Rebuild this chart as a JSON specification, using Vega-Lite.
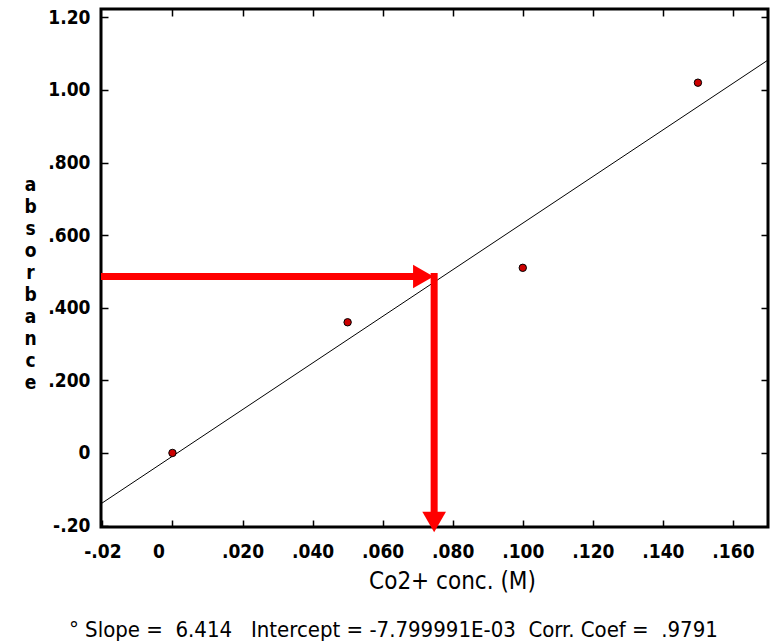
{
  "$schema": "https://vega.github.io/schema/vega-lite/v6.json",
  "autosize": {"type": "none"},
  "width": 667,
  "height": 518,
  "padding": {"left": 101, "top": 9, "right": 5, "bottom": 117},
  "background": "white",
  "config": {
    "view": {"stroke": "black", "strokeWidth": 3},
    "font": "DejaVu Sans Condensed, Liberation Sans, sans-serif",
    "axis": {"grid": false, "domain": false, "tickColor": "black", "tickWidth": 1.5, "tickSize": -7,
      "labelFont": "DejaVu Sans Condensed, Liberation Sans, sans-serif", "labelFontWeight": "bold", "labelFontSize": 19, "labelColor": "black",
      "titleFont": "DejaVu Sans Condensed, Liberation Sans, sans-serif", "titleFontWeight": "normal", "titleColor": "black"}
  },
  "title": {
    "text": "\u00b0 Slope =\u00a0\u00a06.414\u00a0\u00a0\u00a0Intercept = -7.799991E-03\u00a0\u00a0Corr. Coef =\u00a0\u00a0.9791",
    "orient": "bottom", "anchor": "start", "dx": 45, "offset": 27,
    "font": "DejaVu Sans Condensed, Liberation Sans, sans-serif", "fontSize": 22, "fontWeight": "normal", "color": "black"
  },
  "datasets": {
    "pts": [
      {"conc": 0.0, "abs": 0.0},
      {"conc": 0.05, "abs": 0.36},
      {"conc": 0.10, "abs": 0.51},
      {"conc": 0.15, "abs": 1.02}
    ],
    "hline": [{"xa": -0.0204, "xb": 0.0716, "ya": 0.486}],
    "vline": [{"xa": 0.0747, "ya": 0.496, "yb": -0.19}],
    "hhead": [{"xa": 0.0716, "ya": 0.486}],
    "vhead": [{"xa": 0.0747, "ya": -0.19}]
  },
  "layer": [
    {
      "data": {"name": "pts"},
      "transform": [{"regression": "abs", "on": "conc", "extent": [-0.0204, 0.17]}],
      "mark": {"type": "line", "color": "black", "strokeWidth": 1, "clip": true},
      "encoding": {
        "x": {"field": "conc", "type": "quantitative",
          "scale": {"domain": [-0.0204, 0.17], "nice": false, "zero": false},
          "axis": {
            "values": [-0.02, 0, 0.02, 0.04, 0.06, 0.08, 0.1, 0.12, 0.14, 0.16],
            "labelExpr": "datum.value < 0 ? '-.02' : datum.value == 0 ? '0' : replace(format(datum.value, '.3f'), '0.', '.')",
            "labelOffset": {"condition": {"test": "datum.value == 0", "value": -14}, "value": 0},
            "labelPadding": 22,
            "title": "Co2+ conc. (M)", "titleFontSize": 24, "titlePadding": 8, "titleX": 351
          }
        },
        "y": {"field": "abs", "type": "quantitative",
          "scale": {"domain": [-0.204, 1.223], "nice": false, "zero": false},
          "axis": {
            "values": [-0.2, 0, 0.2, 0.4, 0.6, 0.8, 1.0, 1.2],
            "labelExpr": "datum.value < 0 ? '-.20' : datum.value == 0 ? '0' : datum.value >= 1 ? format(datum.value, '.2f') : replace(format(datum.value, '.3f'), '0.', '.')",
            "labelPadding": 18,
            "title": ["a", "b", "s", "o", "r", "b", "a", "n", "c", "e"],
            "titleAngle": 0, "titleFontSize": 19, "titleFontWeight": "bold", "titleLineHeight": 22,
            "titleX": -71, "titleY": 166, "titleAlign": "center", "titleBaseline": "top"
          }
        }
      }
    },
    {
      "data": {"name": "pts"},
      "mark": {"type": "point", "filled": true, "fill": "#cc0000", "stroke": "black", "strokeWidth": 1, "size": 55, "opacity": 1},
      "encoding": {
        "x": {"field": "conc", "type": "quantitative", "axis": {"orient": "top", "values": [0, 0.02, 0.04, 0.06, 0.08, 0.1, 0.12, 0.14, 0.16], "labels": false, "title": null}},
        "y": {"field": "abs", "type": "quantitative", "axis": {"orient": "right", "values": [0, 0.2, 0.4, 0.6, 0.8, 1.0, 1.2], "labels": false, "title": null}}
      }
    },
    {
      "data": {"name": "hline"},
      "mark": {"type": "rule", "color": "#ff0000", "strokeWidth": 7},
      "encoding": {
        "x": {"field": "xa", "type": "quantitative", "axis": null},
        "x2": {"field": "xb"},
        "y": {"field": "ya", "type": "quantitative", "axis": null}
      }
    },
    {
      "data": {"name": "vline"},
      "mark": {"type": "rule", "color": "#ff0000", "strokeWidth": 7},
      "encoding": {
        "x": {"field": "xa", "type": "quantitative", "axis": null},
        "y": {"field": "ya", "type": "quantitative", "axis": null},
        "y2": {"field": "yb"}
      }
    },
    {
      "data": {"name": "hhead"},
      "mark": {"type": "point", "shape": "triangle-right", "filled": true, "color": "#ff0000", "size": 560, "opacity": 1},
      "encoding": {
        "x": {"field": "xa", "type": "quantitative", "axis": null},
        "y": {"field": "ya", "type": "quantitative", "axis": null}
      }
    },
    {
      "data": {"name": "vhead"},
      "mark": {"type": "point", "shape": "triangle-down", "filled": true, "color": "#ff0000", "size": 560, "opacity": 1},
      "encoding": {
        "x": {"field": "xa", "type": "quantitative", "axis": null},
        "y": {"field": "ya", "type": "quantitative", "axis": null}
      }
    }
  ],
  "resolve": {"axis": {"x": "independent", "y": "independent"}}
}
